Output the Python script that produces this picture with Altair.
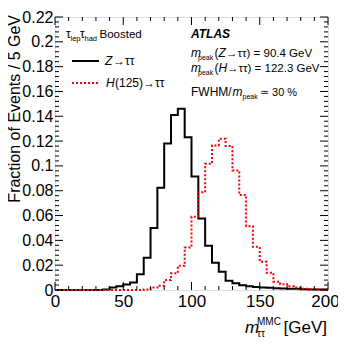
import altair as alt
import pandas as pd

FONT = "Liberation Sans"
W, H = 273, 273

# bin lower edges (5 GeV bins, 0..195) plus closing edge 200
edges = list(range(0, 205, 5))

z_tautau = [0, 0, 0, 0, 0, 0, 0, 0.0005, 0.002, 0.003,
            0.0045, 0.006, 0.0126, 0.026, 0.050, 0.0825, 0.118, 0.141, 0.146, 0.123,
            0.0915, 0.0576, 0.0356, 0.022, 0.0147, 0.0075, 0.0054, 0.0038, 0.003, 0.0025,
            0.002, 0.0018, 0.0015, 0.0013, 0.001, 0.001, 0.0007, 0.0005, 0.0005, 0.0004]

h_tautau = [0, 0, 0, 0, 0, 0, 0, 0, 0, 0,
            0, 0, 0, 0.0005, 0.002, 0.0035, 0.008, 0.0134, 0.0195, 0.0343,
            0.059, 0.0787, 0.1017, 0.1165, 0.1218, 0.116, 0.0964, 0.0766, 0.0514, 0.0348,
            0.0228, 0.0139, 0.0067, 0.0046, 0.003, 0.002, 0.0011, 0.0008, 0.0005, 0.0005]

x_major = [0, 50, 100, 150, 200]
x_minor = [v for v in range(0, 201, 10) if v % 50 != 0]
y_major = [round(0.02 * i, 2) for i in range(12)]
y_minor = [round(0.004 * i, 3) for i in range(56) if i % 5 != 0]

xs = alt.Scale(domain=[0, 200], nice=False, zero=False)
ys = alt.Scale(domain=[0, 0.22], nice=False, zero=False)

zdf = pd.DataFrame({"m": edges, "f": z_tautau + [z_tautau[-1]]})
hdf = pd.DataFrame({"m": edges, "f": h_tautau + [h_tautau[-1]]})

xaxis = alt.Axis(values=x_major, ticks=False, domain=False, grid=False, labelFont=FONT,
                 labelFontSize=17, labelColor="black", labelPadding=3, labelFlush=False,
                 labelOffset={"condition": {"test": "datum.value == 200", "value": -3}, "value": 0},
                 title=None)
yaxis = alt.Axis(values=y_major, format=".2~f", ticks=False, domain=False, grid=False,
                 labelFont=FONT, labelFontSize=16, labelColor="black", labelPadding=2,
                 title=None)

zline = alt.Chart(zdf).mark_line(interpolate="step-after", color="black", strokeWidth=2).encode(
    x=alt.X("m:Q", scale=xs, axis=xaxis),
    y=alt.Y("f:Q", scale=ys, axis=yaxis),
)
hline = alt.Chart(hdf).mark_line(interpolate="step-after", color="#ff0000", strokeWidth=2,
                                 strokeDash=[2, 2]).encode(
    x=alt.X("m:Q", scale=xs, axis=xaxis),
    y=alt.Y("f:Q", scale=ys, axis=yaxis),
)

def xticks(vals, length, top):
    d = pd.DataFrame({"m": vals})
    y0 = 0 if top else H
    y1 = length if top else H - length
    return alt.Chart(d).mark_rule(color="black", strokeWidth=1).encode(
        x=alt.X("m:Q", scale=xs, axis=xaxis), y=alt.value(y0), y2=alt.value(y1))

def yticks(vals, length, right):
    d = pd.DataFrame({"f": vals})
    x0 = W if right else 0
    x1 = W - length if right else length
    return alt.Chart(d).mark_rule(color="black", strokeWidth=1).encode(
        y=alt.Y("f:Q", scale=ys, axis=yaxis), x=alt.value(x0), x2=alt.value(x1))

one = pd.DataFrame({"a": [0]})

def txt(s, x, y, size=12, style="normal", weight="normal", align="left", angle=0):
    return alt.Chart(one).mark_text(text=s, font=FONT, fontSize=size, fontStyle=style,
                                    fontWeight=weight, align=align, baseline="alphabetic",
                                    angle=angle, color="black").encode(x=alt.value(x), y=alt.value(y))

def seg(x1, x2, y, color, dash=None):
    kw = dict(color=color, strokeWidth=2)
    if dash:
        kw["strokeDash"] = dash
    return alt.Chart(one).mark_rule(**kw).encode(x=alt.value(x1), x2=alt.value(x2), y=alt.value(y))

texts = [
    # y title
    txt("Fraction of Events / 5 GeV", -35.5, -2, size=16, align="right", angle=270),
    # category label
    txt("τ", 11, 21), txt("lep", 15.5, 24, size=7.5), txt("τ", 25, 21), txt("had", 29.5, 24, size=7.5),
    txt("Boosted", 44.5, 21, size=11.5),
    # legend
    seg(17, 44, 44, "black"), txt("Z", 50, 48, style="italic"), txt("→ττ", 58, 48),
    seg(17, 44, 66, "#ff0000", [2, 2]), txt("H", 51, 70, style="italic"), txt("(125)→ττ", 60, 70),
    # ATLAS block
    txt("ATLAS", 136, 21, size=12, style="italic", weight="bold"),
    txt("m", 136, 40, style="italic"), txt("peak", 143, 43, size=7), txt("(", 159.5, 40),
    txt("Z", 163.5, 40, style="italic"), txt("→ττ) = 90.4 GeV", 171, 40, size=11.5),
    txt("m", 136, 55, style="italic"), txt("peak", 143, 58, size=7), txt("(", 159.5, 55),
    txt("H", 163.5, 55, style="italic"), txt("→ττ) = 122.3 GeV", 172, 55, size=11.5),
    txt("FWHM/", 136, 79), txt("m", 177.5, 79, style="italic"), txt("peak", 187.5, 82, size=7),
    txt("≃ 30 %", 205, 79, size=11),
    # x title
    txt("m", 190, 316, size=17, style="italic"), txt("ττ", 202, 320, size=10),
    txt("MMC", 202, 308, size=10), txt("[GeV]", 272, 316, size=17, align="right"),
]

chart = alt.layer(
    zline, hline,
    xticks(x_major, 8, False), xticks(x_minor, 4, False),
    xticks(x_major, 8, True), xticks(x_minor, 4, True),
    yticks(y_major, 8, False), yticks(y_minor, 4, False),
    yticks(y_major, 8, True), yticks(y_minor, 4, True),
    *texts,
).properties(
    width=W, height=H,
    autosize=alt.AutoSizeParams(type="none"),
    padding={"left": 47, "top": 9, "right": 10, "bottom": 48},
).configure_view(stroke="black", strokeWidth=1).configure(background="white")

chart.save("out.html", embed_options={"renderer": "svg", "actions": False})
